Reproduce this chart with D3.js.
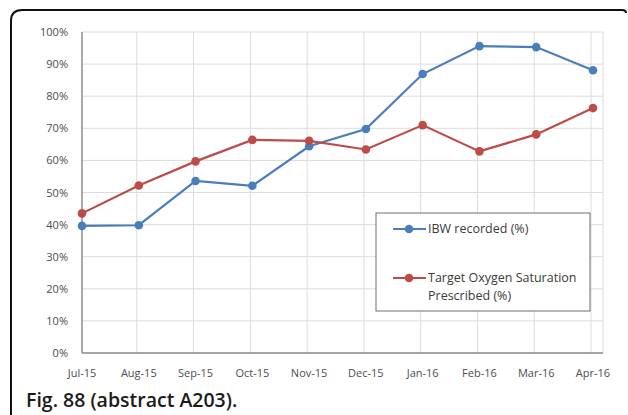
<!DOCTYPE html>
<html>
<head>
<meta charset="utf-8">
<script src="https://cdn.jsdelivr.net/npm/d3@7"></script>
<style>
  body { margin: 0; background: #fff; }
  svg { display: block; }
  .tick-label { font-family: "Open Sans", "Liberation Sans", sans-serif; font-size: 11px; fill: #4d4d4d; }
  .legend-text { font-family: "Open Sans", "Liberation Sans", sans-serif; font-size: 12.5px; fill: #3a3a3a; }
  .caption { font-family: "Open Sans", "Noto Sans", sans-serif; font-size: 19.5px; font-weight: 600; fill: #1a1a1a; }
</style>
</head>
<body>
<div id="chart"></div>
<script>
// data
var months = ["Jul-15","Aug-15","Sep-15","Oct-15","Nov-15","Dec-15","Jan-16","Feb-16","Mar-16","Apr-16"];
var ibwRecorded = [39.6, 39.8, 53.6, 52.1, 64.4, 69.8, 86.9, 95.6, 95.3, 88.1];
var targetO2 = [43.5, 52.2, 59.7, 66.4, 66.1, 63.4, 71.0, 62.8, 68.1, 76.3];
var yTicks = [0, 10, 20, 30, 40, 50, 60, 70, 80, 90, 100];
var seriesNames = ["IBW recorded (%)", "Target Oxygen Saturation|Prescribed (%)"];
var seriesColors = ["#4a7ebb", "#be4b48"];

var width = 628, height = 415;
var svg = d3.select("#chart").append("svg")
    .attr("width", width).attr("height", height);

// figure frame (rounded top-left corner, open at the bottom)
svg.append("path")
    .attr("d", "M11,415 V21 Q11,10 22,10 H622 Q626,10 626,13")
    .attr("fill", "none")
    .attr("stroke", "#111")
    .attr("stroke-width", 2);

var plot = {left: 82, right: 603, top: 32, bottom: 353};

var x = d3.scalePoint().domain(months).range([82, 593]);
var y = d3.scaleLinear().domain([0, 100]).range([plot.bottom, plot.top]);

// horizontal gridlines
svg.append("g").selectAll("line.hgrid").data(yTicks).enter().append("line")
    .attr("class", "hgrid")
    .attr("x1", plot.left).attr("x2", plot.right)
    .attr("y1", function(d) { return y(d); })
    .attr("y2", function(d) { return y(d); })
    .attr("stroke", "#dcdcdc").attr("stroke-width", 1);

// vertical gridlines
svg.append("g").selectAll("line.vgrid").data(months.slice(1)).enter().append("line")
    .attr("class", "vgrid")
    .attr("x1", function(d) { return x(d) - 2; })
    .attr("x2", function(d) { return x(d) - 2; })
    .attr("y1", plot.top).attr("y2", plot.bottom)
    .attr("stroke", "#dcdcdc").attr("stroke-width", 1);

// right border of plot area
svg.append("line")
    .attr("x1", plot.right).attr("x2", plot.right)
    .attr("y1", plot.top).attr("y2", plot.bottom)
    .attr("stroke", "#dcdcdc");

// axes lines
svg.append("line")
    .attr("x1", plot.left).attr("x2", plot.left)
    .attr("y1", plot.top).attr("y2", plot.bottom)
    .attr("stroke", "#8c8c8c").attr("stroke-width", 1.5);
svg.append("line")
    .attr("x1", plot.left).attr("x2", plot.right)
    .attr("y1", plot.bottom).attr("y2", plot.bottom)
    .attr("stroke", "#8c8c8c").attr("stroke-width", 1.5);

// y tick labels
svg.append("g").selectAll("text").data(yTicks).enter().append("text")
    .attr("class", "tick-label")
    .attr("x", 68)
    .attr("y", function(d) { return y(d) + 4; })
    .attr("text-anchor", "end")
    .text(function(d) { return d + "%"; });

// x tick labels
svg.append("g").selectAll("text").data(months).enter().append("text")
    .attr("class", "tick-label")
    .attr("x", function(d) { return x(d); })
    .attr("y", 377)
    .attr("text-anchor", "middle")
    .text(function(d) { return d; });

// series
var series = [ibwRecorded, targetO2];
var line = d3.line()
    .x(function(d, i) { return x(months[i]); })
    .y(function(d) { return y(d); });

var sg = svg.append("g").selectAll("g.series").data(series).enter().append("g")
    .attr("class", "series");

sg.append("path")
    .attr("d", function(d) { return line(d); })
    .attr("fill", "none")
    .attr("stroke", function(d, i) { return seriesColors[i]; })
    .attr("stroke-width", 2.2);

sg.each(function(d, si) {
  d3.select(this).selectAll("circle").data(d).enter().append("circle")
      .attr("cx", function(v, i) { return x(months[i]); })
      .attr("cy", function(v) { return y(v); })
      .attr("r", 4.3)
      .attr("fill", seriesColors[si]);
});

// legend
var legend = svg.append("g").attr("transform", "translate(376,213)");
legend.append("rect")
    .attr("width", 214).attr("height", 98)
    .attr("fill", "#fff")
    .attr("stroke", "#6e6e6e").attr("stroke-width", 1);

var ly = [16, 65];
seriesNames.forEach(function(name, i) {
  legend.append("line")
      .attr("x1", 17).attr("x2", 50)
      .attr("y1", ly[i]).attr("y2", ly[i])
      .attr("stroke", seriesColors[i]).attr("stroke-width", 2.2);
  legend.append("circle")
      .attr("cx", 33).attr("cy", ly[i]).attr("r", 4.3)
      .attr("fill", seriesColors[i]);
  var parts = name.split("|");
  var t = legend.append("text")
      .attr("class", "legend-text")
      .attr("x", 52).attr("y", ly[i] + 4);
  parts.forEach(function(p, j) {
    t.append("tspan").attr("x", 52).attr("dy", j === 0 ? 0 : 18).text(p);
  });
});

// caption
svg.append("text")
    .attr("class", "caption")
    .attr("x", 26).attr("y", 407)
    .text("Fig. 88 (abstract A203).");
</script>
</body>
</html>
